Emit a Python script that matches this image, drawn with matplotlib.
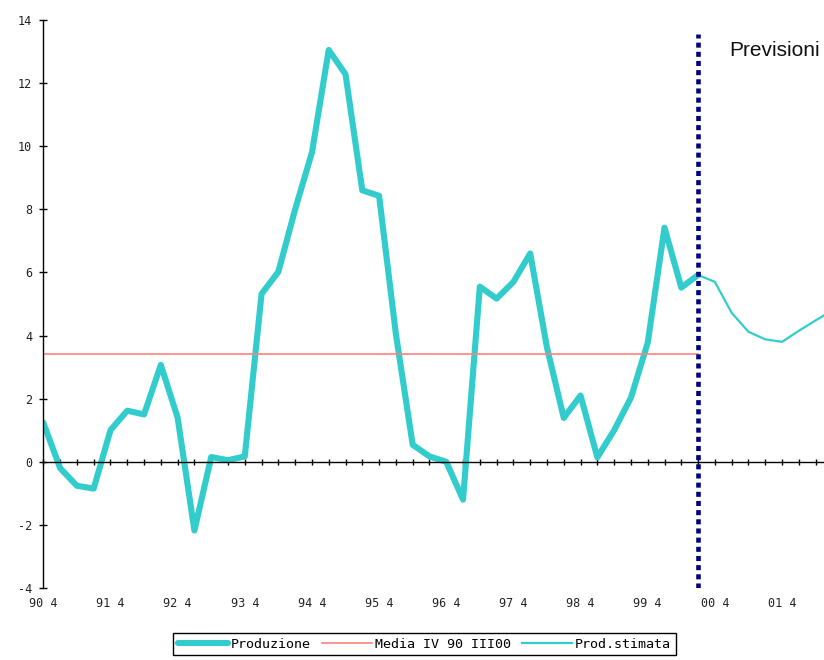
import matplotlib
matplotlib.use("Agg")
import matplotlib.pyplot as plt

plt.rcParams["axes.unicode_minus"] = False

# quarterly production growth, starting 90 Q4
produzione = [1.24, -0.2, -0.76, -0.85, 1.0, 1.62, 1.5, 3.07, 1.4, -2.18,
              0.15, 0.05, 0.17, 5.32, 6.02, 8.0, 9.8, 13.05, 12.28, 8.6,
              8.43, 4.05, 0.54, 0.17, 0.0, -1.2, 5.55, 5.17, 5.7, 6.6,
              3.62, 1.39, 2.1, 0.14, 1.0, 2.03, 3.77, 7.42, 5.52, 5.92]
# estimated values, starting from the last observed quarter
prod_stimata = [5.92, 5.7, 4.72, 4.12, 3.88, 3.8, 4.15, 4.48, 4.8]
media = 3.42

x_labels = ["90 4", "91 4", "92 4", "93 4", "94 4", "95 4",
            "96 4", "97 4", "98 4", "99 4", "00 4", "01 4"]
y_ticks = [-4, -2, 0, 2, 4, 6, 8, 10, 12, 14]

teal = "#33CCCC"
mono = "DejaVu Sans Mono"

n_obs = len(produzione)
x_obs = list(range(n_obs))
start = n_obs - 1
x_est = list(range(start, start + len(prod_stimata)))

fig = plt.figure(figsize=(8.24, 6.6), dpi=100)
ax = fig.add_axes([43.3 / 824, 1 - 588 / 660, 1 - 43.3 / 824, 568 / 660])

l1, = ax.plot(x_obs, produzione, color=teal, lw=4.4,
              solid_capstyle="round", solid_joinstyle="round", label="Produzione")
l2, = ax.plot([0, start], [media, media], color="#FF8080", lw=1.2,
              label="Media IV 90 III00")
l3, = ax.plot(x_est, prod_stimata, color=teal, lw=1.6, label="Prod.stimata")

# forecast separator
ax.vlines(start, -4, 13.55, colors="#000080", lw=3.3,
          linestyles=(0, (1.1, 0.9)), zorder=4)
ax.text(start + 1.85, 12.85, "Previsioni", family="Liberation Sans",
        fontsize=15, color="#111111", ha="left", va="baseline")

ax.set_xlim(0, 46.5)
ax.set_ylim(-4, 14)

ax.spines["top"].set_visible(False)
ax.spines["right"].set_visible(False)
ax.spines["bottom"].set_position(("data", 0))
ax.spines["left"].set_linewidth(1.0)
ax.spines["bottom"].set_linewidth(1.0)

ax.set_yticks(y_ticks)
ax.set_yticklabels([str(v) for v in y_ticks], family=mono, fontsize=8.5,
                   color="#222222")
ax.tick_params(axis="y", direction="inout", length=6, width=1, pad=5)

ax.set_xticks(range(0, 47))
ax.set_xticklabels([])
ax.tick_params(axis="x", direction="inout", length=5, width=1)

# year labels sit under the plot area, not on the zero line
trans = ax.get_xaxis_transform()
for i, lab in enumerate(x_labels):
    ax.text(i * 4, -0.027, lab, transform=trans, ha="center", va="center",
            family=mono, fontsize=8.5, color="#222222", clip_on=False)

leg = fig.legend(handles=[l1, l2, l3], loc="upper left",
                 bbox_to_anchor=(173 / 824, 1 - 633 / 660), ncol=3,
                 prop={"family": mono, "size": 9.6}, frameon=True,
                 fancybox=False, edgecolor="black", framealpha=1,
                 handlelength=3.8, handletextpad=0.2, columnspacing=0.8,
                 borderpad=0.35, borderaxespad=0)
leg.get_frame().set_linewidth(1.0)

fig.savefig("out.png", dpi=100)
